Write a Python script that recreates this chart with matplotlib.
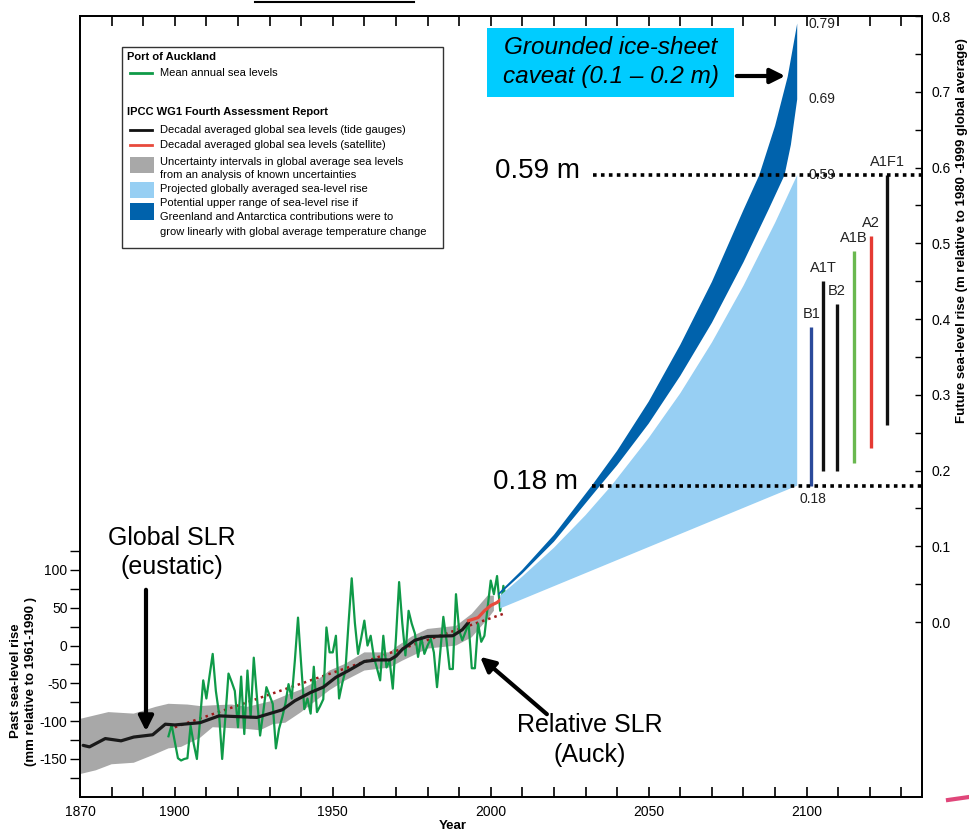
import numpy as np
import matplotlib
matplotlib.use('Agg')
import matplotlib.pyplot as plt
from matplotlib.patches import Rectangle, FancyArrowPatch
from matplotlib.lines import Line2D

plt.rcParams['font.family'] = ['Liberation Sans', 'DejaVu Sans']
plt.rcParams['axes.unicode_minus'] = False

# ---------------- data ----------------
# Port of Auckland mean annual sea levels (mm)
green_years = list(range(1898, 2007))
green_mm = [-120, -105, -127, -149, -152, -150, -149, -106, -130, -150,
            -98, -46, -70, -40, -11, -60, -90, -150, -95, -37,
            -48, -60, -108, -41, -117, -33, -95, -16, -68, -119,
            -88, -55, -66, -77, -136, -110, -95, -77, -51, -70,
            -20, 37, -25, -84, -70, -90, -28, -88, -80, -71,
            24, -9, -9, 13, -70, -50, -33, 30, 89, 30,
            -11, 10, 33, 0, 13, -15, -30, -46, 13, -29,
            -20, -57, 10, 84, 30, -13, 46, 29, 16, -15,
            11, -11, 0, 9, -9, -55, -10, 38, 7, -31,
            -31, 68, 20, 7, 18, 29, -30, -30, 29, 5,
            13, 50, 86, 68, 92, 46, 79, 59, 73]

# Decadal averaged global sea levels, tide gauges (mm)
tide_years = [1871, 1873, 1878, 1883, 1887, 1893, 1897, 1900, 1908, 1912, 1914,
              1920, 1926, 1930, 1934, 1938, 1943, 1947, 1951, 1955, 1960, 1964,
              1968, 1970, 1972, 1976, 1980, 1988, 1991, 1993]
tide_mm = [-132, -134, -123, -126, -121, -118, -104, -105, -102, -96, -93,
           -94, -95, -90, -85, -73, -62, -55, -42, -33, -21, -19,
           -19, -14, -5, 7, 12, 13, 21, 31]

# Satellite (mm)
sat_years = [1993, 1996, 1998, 2000, 2002, 2004, 2006]
sat_mm = [33, 37, 46, 53, 57, 64, 68]

# Uncertainty band (mm)
unc_up_years = [1870, 1879, 1887, 1894, 1898, 1904, 1908, 1912, 1918, 1923, 1931,
                1935, 1940, 1944, 1949, 1954, 1960, 1968, 1970, 1975, 1980, 1989,
                1994, 1999, 2001]
unc_up_mm = [-97, -88, -90, -81, -77, -78, -80, -79, -78, -81, -73,
             -66, -58, -49, -33, -24, -9, -9, -2, 12, 22, 26,
             42, 66, 66]
unc_lo_years = [1870, 1875, 1880, 1887, 1893, 1898, 1902, 1908, 1912, 1922, 1927,
                1931, 1935, 1940, 1944, 1949, 1954, 1960, 1968, 1972, 1980, 1989,
                1994, 1999, 2001]
unc_lo_mm = [-170, -165, -157, -155, -145, -136, -134, -122, -108, -110, -112,
             -104, -102, -88, -75, -59, -46, -33, -29, -20, -4, 0,
             11, 35, 46]

# Linear trend (dotted red)
trend_years = [1900, 2004]
trend_mm = [-108, 42]

# Projections (m, relative to 1980-1999)
dark_up_years = [2002.4, 2010, 2020, 2032, 2040, 2050, 2060, 2070, 2080, 2085, 2090, 2094, 2097]
dark_up_m = [0.038, 0.069, 0.115, 0.18, 0.226, 0.291, 0.366, 0.449, 0.544, 0.59, 0.655,
             0.72, 0.79]
dark_lo_years = [2002.4, 2010, 2020, 2034.6, 2040, 2050, 2060, 2070, 2080, 2088, 2093, 2095,
                 2097]
dark_lo_m = [0.035, 0.064, 0.106, 0.18, 0.207, 0.262, 0.325, 0.395, 0.475, 0.545, 0.59,
             0.63, 0.69]
light_up_years = [2003, 2010, 2020, 2030, 2038.2, 2050, 2060, 2070, 2080, 2090, 2097]
light_up_m = [0.035, 0.060, 0.098, 0.141, 0.18, 0.243, 0.302, 0.369, 0.444, 0.527, 0.59]
light_lo_years = [2003, 2097]
light_lo_m = [0.018, 0.18]

# SRES scenario ranges (m)
scenarios = ['B1', 'A1T', 'B2', 'A1B', 'A2', 'A1F1']
scen_low = [0.18, 0.20, 0.20, 0.21, 0.23, 0.26]
scen_high = [0.39, 0.45, 0.42, 0.49, 0.51, 0.59]
scen_colors = ['#2b4a9b', '#111111', '#111111', '#6ab84f', '#e53a33', '#111111']
scen_x = [2101.5, 2105.2, 2109.6, 2115.0, 2120.3, 2125.5]

end_labels = ['0.79', '0.69', '0.59', '0.18']
end_values = [0.79, 0.69, 0.59, 0.18]

# ---------------- figure ----------------
W, H = 969, 835
fig = plt.figure(figsize=(W / 100, H / 100), dpi=100)
L, R, T, B = 80, 922, 16, 797
ax = fig.add_axes([L / W, 1 - B / H, (R - L) / W, (B - T) / H])
ax.set_xlim(1870, 2136.5)
ax.set_ylim(-200.3, 832.8)
ax2 = ax.twinx()
ax2.set_ylim(-0.231, 0.8)

def fx(px):
    return px / W

def fy(py):
    return 1 - py / H

grey = '#a8a8a8'
light_blue = '#97cff3'
dark_blue = '#0062ac'

# past data
ax.fill(unc_up_years + unc_lo_years[::-1], unc_up_mm + unc_lo_mm[::-1],
        color=grey, lw=0, zorder=1)
ax.plot(trend_years, trend_mm, color='#9e1a1a', lw=1.8, ls=(0, (1, 1.6)), zorder=3)
ax.plot(green_years, green_mm, color='#0f9a48', lw=1.6, zorder=4)
ax.plot(tide_years, tide_mm, color='#1a1a1a', lw=2.3, zorder=5, solid_capstyle='round')
ax.plot(sat_years, sat_mm, color='#e84a3c', lw=2.3, zorder=5)

# projections
ax2.fill(light_up_years + light_lo_years[::-1], light_up_m + light_lo_m[::-1],
         color=light_blue, lw=0, zorder=1)
ax2.fill(dark_up_years + dark_lo_years[::-1], dark_up_m + dark_lo_m[::-1],
         color=dark_blue, lw=0, zorder=2)

# dotted reference lines
ax2.plot([2032.3, 2136.5], [end_values[2], end_values[2]], color='black', lw=2.6,
         ls=(0, (1, 1.2)), zorder=6, clip_on=False)
ax2.plot([2032.0, 2136.5], [end_values[3], end_values[3]], color='black', lw=2.6,
         ls=(0, (1, 1.2)), zorder=6, clip_on=False)

# scenario bars
for name, lo, hi, c, x in zip(scenarios, scen_low, scen_high, scen_colors, scen_x):
    ax2.vlines(x, lo, hi, colors=c, lw=2.4, zorder=5)
    ax2.text(x, hi + 0.008, name, ha='center', va='bottom', fontsize=10.5, color='#222222')

# end labels
for lab, v in zip(end_labels[:3], end_values[:3]):
    ax2.text(2100.6, v, lab, ha='left', va='center', fontsize=10, color='#222222', zorder=7)
ax2.text(2097.6, end_values[3] - 0.008, end_labels[3], ha='left', va='top', fontsize=10,
         color='#222222')

# axes styling
for sp in ax.spines.values():
    sp.set_linewidth(1.3)
for sp in ax2.spines.values():
    sp.set_linewidth(1.3)
ax.set_xticks([1870, 1900, 1950, 2000, 2050, 2100])
ax.set_xticks(list(range(1870, 2136, 10)), minor=True)
ax.tick_params(axis='x', which='both', direction='in', top=True, length=7, width=1.2,
               labelsize=10, pad=6)
ax.set_yticks(list(range(-150, 101, 50)))
ax.set_yticks(list(range(-175, 126, 25)), minor=True)
ax.tick_params(axis='y', which='both', direction='out', length=7, width=1.0,
               labelsize=10, pad=2)
ax2.set_yticks([i / 10 for i in range(9)])
ax2.set_yticklabels(['%.1f' % (i / 10) for i in range(9)])
ax2.set_yticks([i / 20 for i in range(17)], minor=True)
ax2.tick_params(axis='y', which='both', direction='in', length=5, width=1.0,
                labelsize=10, pad=7)

# axis labels
fig.text(fx(16), fy(681), 'Past sea-level rise', rotation=90, ha='center', va='center',
         fontsize=9.5, fontweight='bold')
fig.text(fx(31), fy(681), '(mm relative to 1961-1990 )', rotation=90, ha='center',
         va='center', fontsize=9.5, fontweight='bold')
fig.text(fx(962), fy(231), 'Future sea-level rise (m relative to 1980 -1999 global average)',
         rotation=90, ha='center', va='center', fontsize=9.5, fontweight='bold')
fig.text(fx(453), fy(826), 'Year', ha='center', va='center', fontsize=9.5, fontweight='bold')

# big annotation texts
fig.text(fx(495), fy(171), '0.59 m', ha='left', va='center', fontsize=20)
fig.text(fx(493), fy(482), '0.18 m', ha='left', va='center', fontsize=20)
fig.text(fx(172), fy(538), 'Global SLR', ha='center', va='center', fontsize=18)
fig.text(fx(172), fy(567), '(eustatic)', ha='center', va='center', fontsize=18)
fig.text(fx(590), fy(725), 'Relative SLR', ha='center', va='center', fontsize=18)
fig.text(fx(590), fy(755), '(Auck)', ha='center', va='center', fontsize=18)

# caveat box
fig.add_artist(Rectangle((fx(487), fy(97)), fx(734) - fx(487), fy(28) - fy(97),
                         transform=fig.transFigure, facecolor='#00ccff', edgecolor='none'))
fig.text(fx(611), fy(48), 'Grounded ice-sheet', ha='center', va='center', fontsize=17.5,
         style='italic')
fig.text(fx(611), fy(77), 'caveat (0.1 \u2013 0.2 m)', ha='center', va='center',
         fontsize=17.5, style='italic')

def arrow(x0, y0, x1, y1):
    fig.add_artist(FancyArrowPatch((fx(x0), fy(y0)), (fx(x1), fy(y1)),
                                   transform=fig.transFigure, arrowstyle='-|>',
                                   mutation_scale=22, lw=3, color='black'))

arrow(734, 76, 788, 76)
arrow(146, 587, 146, 734)
arrow(549, 716, 478, 655)

# legend box
fig.add_artist(Rectangle((fx(122), fy(248)), fx(443) - fx(122), fy(47) - fy(248),
                         transform=fig.transFigure, facecolor='white', edgecolor='#333333',
                         lw=1.0))
lfs = 8
fig.text(fx(127), fy(57), 'Port of Auckland', fontsize=lfs, fontweight='bold', va='center')
fig.add_artist(Line2D([fx(130), fx(152)], [fy(73), fy(73)], transform=fig.transFigure,
                      color='#0f9a48', lw=2))
fig.text(fx(160), fy(73), 'Mean annual sea levels', fontsize=lfs, va='center')
fig.text(fx(127), fy(112), 'IPCC WG1 Fourth Assessment Report', fontsize=lfs,
         fontweight='bold', va='center')
fig.add_artist(Line2D([fx(130), fx(152)], [fy(130), fy(130)], transform=fig.transFigure,
                      color='#111111', lw=2))
fig.text(fx(160), fy(130), 'Decadal averaged global sea levels (tide gauges)', fontsize=lfs,
         va='center')
fig.add_artist(Line2D([fx(130), fx(152)], [fy(145), fy(145)], transform=fig.transFigure,
                      color='#e84a3c', lw=2))
fig.text(fx(160), fy(145), 'Decadal averaged global sea levels (satellite)', fontsize=lfs,
         va='center')
for (y0, y1, col) in [(157, 173, grey), (182, 198, light_blue), (203, 220, dark_blue)]:
    fig.add_artist(Rectangle((fx(130), fy(y1)), fx(154) - fx(130), fy(y0) - fy(y1),
                             transform=fig.transFigure, facecolor=col, edgecolor='none'))
fig.text(fx(160), fy(162), 'Uncertainty intervals in global average sea levels',
         fontsize=lfs, va='center')
fig.text(fx(160), fy(175), 'from an analysis of known uncertainties', fontsize=lfs,
         va='center')
fig.text(fx(160), fy(189), 'Projected globally averaged sea-level rise', fontsize=lfs,
         va='center')
fig.text(fx(160), fy(203), 'Potential upper range of sea-level rise if', fontsize=lfs,
         va='center')
fig.text(fx(160), fy(217), 'Greenland and Antarctica contributions were to', fontsize=lfs,
         va='center')
fig.text(fx(160), fy(232), 'grow linearly with global average temperature change',
         fontsize=lfs, va='center')

# fragments at edges of the original picture
fig.add_artist(Line2D([fx(255), fx(414)], [fy(1.5), fy(1.5)], transform=fig.transFigure,
                      color='black', lw=1.5))
fig.add_artist(Line2D([fx(948), fx(969)], [fy(800), fy(797)], transform=fig.transFigure,
                      color='#e0467a', lw=3))

fig.savefig('out.png', dpi=100)
